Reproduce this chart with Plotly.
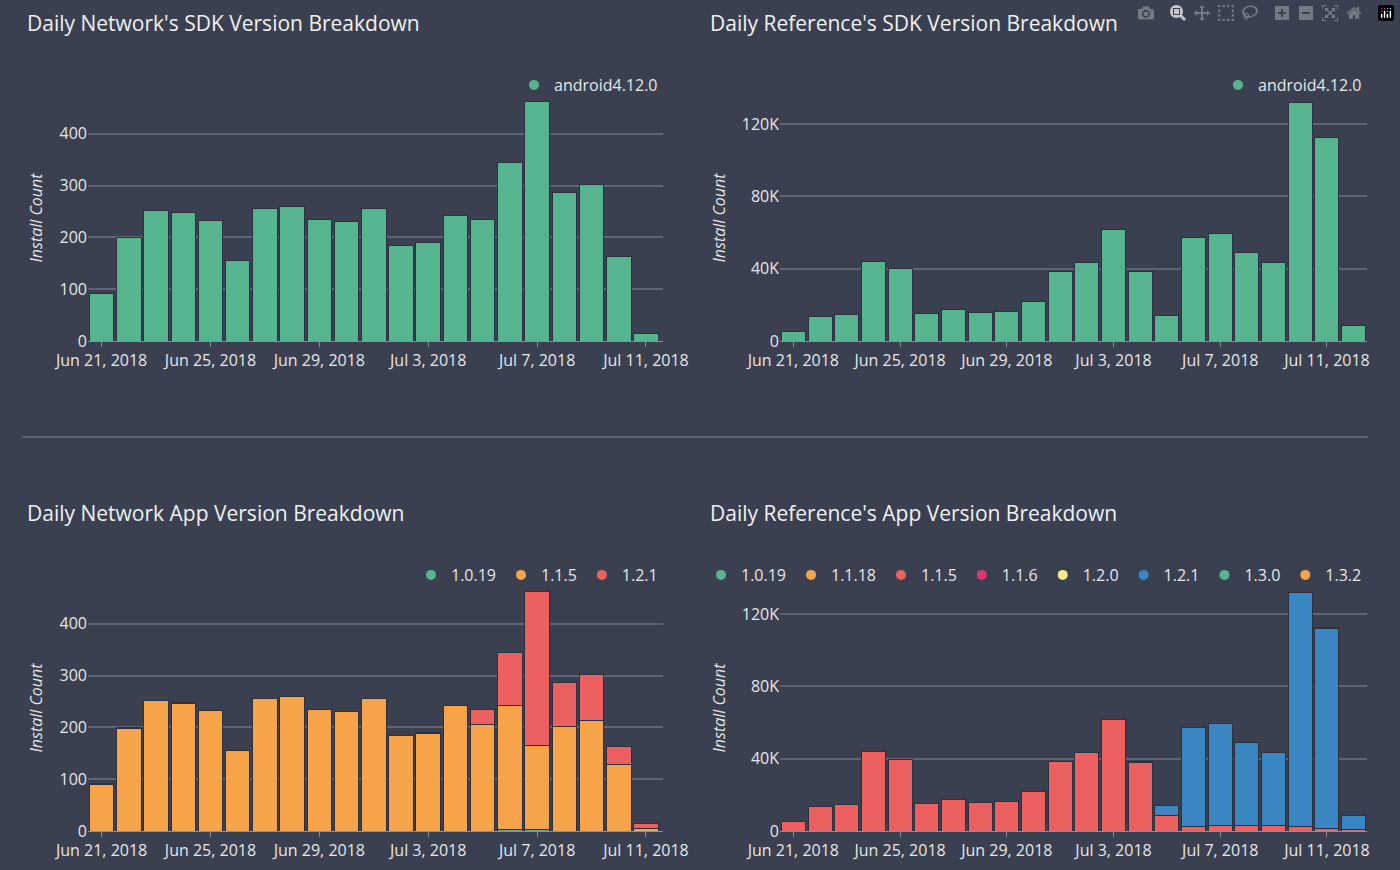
import plotly.graph_objects as go
import pandas as pd

dates_l = pd.date_range("2018-06-21", "2018-07-11").strftime("%Y-%m-%d").tolist()
dates_r = pd.date_range("2018-06-21", "2018-07-12").strftime("%Y-%m-%d").tolist()

net_sdk = [92,200,252,249,233,156,256,259,234,230,256,185,190,242,234,345,462,287,303,164,15]
ref_sdk = [5,13.5,14.5,44,40,15,17.5,15.5,16.5,22,38.5,43.5,61.5,38.5,14,57,59.5,49,43.5,132,112.5,8.5]
ref_sdk = [v*1000 for v in ref_sdk]

net_1019 = [0]*15 + [2,2] + [0]*4
net_115 = [90,197,252,247,233,155,256,259,234,230,255,184,188,242,205,241,164,201,213,128,5]
net_121 = [a-b-c for a,b,c in zip(net_sdk, net_115, net_1019)]

ref_115 = [5,13.5,14.5,44,39.5,15,17.5,15.5,16.5,22,38.5,43.5,61.5,38,8.5,2.5,3,3,3,2.5,1.5,0.8]
ref_121 = [0,0,0,0,0,0,0,0,0,0,0,0,0,0.5,5.5,54.5,56.5,46,40.5,129.5,110.5,7.7]
ref_130 = [0]*20 + [0.5, 0]
ref_115 = [v*1000 for v in ref_115]
ref_121 = [v*1000 for v in ref_121]
ref_130 = [v*1000 for v in ref_130]

k_ticks = [0, 40000, 80000, 120000]
k_labels = ["0", "40K", "80K", "120K"]

GREEN, ORANGE, RED, BLUE = "#56b58f", "#f6a34a", "#ee5f5f", "#3a86c3"
PINK, YELLOW = "#e0356e", "#f6e98b"
BG = "#3a4050"
TXT = "#e6e6e6"
line = dict(color="#2c3140", width=1)

fig = go.Figure()

def add(name, x, y, c, xa, ya, lg):
    fig.add_bar(x=x, y=y, name=name, marker=dict(color=c, line=line), xaxis=xa, yaxis=ya,
                legend=lg, showlegend=False, legendgroup=lg+name)
    fig.add_scatter(x=[None], y=[None], mode="markers", name=name, marker=dict(color=c, size=10, symbol="circle"),
                    xaxis=xa, yaxis=ya, legend=lg, showlegend=True, legendgroup=lg+name)

add("android4.12.0", dates_l, net_sdk, GREEN, "x", "y", "legend")
add("android4.12.0", dates_r, ref_sdk, GREEN, "x2", "y2", "legend2")
for name, vals, c in [("1.0.19", net_1019, GREEN), ("1.1.5", net_115, ORANGE), ("1.2.1", net_121, RED)]:
    add(name, dates_l, vals, c, "x3", "y3", "legend3")
zero = [0]*len(dates_r)
for name, vals, c in [("1.0.19", zero, GREEN), ("1.1.18", zero, ORANGE), ("1.1.5", ref_115, RED),
                      ("1.1.6", zero, PINK), ("1.2.0", zero, YELLOW), ("1.2.1", ref_121, BLUE),
                      ("1.3.0", ref_130, GREEN), ("1.3.2", zero, ORANGE)]:
    add(name, dates_r, vals, c, "x4", "y4", "legend4")

H, W = 870, 1400
def py(p): return 1 - p/H
xl, xr = [88/W, 663/W], [780/W, 1367/W]
yt, yb = [py(341), py(95)], [py(831), py(585)]

xax = dict(type="date", tickformat="%b %-d, %Y", dtick=4*86400000, tick0="2018-06-21", showgrid=False,
           ticks="outside", ticklen=5, tickcolor="#8a909c", tickfont=dict(size=16, color=TXT), linecolor="#8a909c",
           automargin=False)
yax = dict(gridcolor="#5f6574", gridwidth=1.5, zeroline=False, tickfont=dict(size=16, color=TXT), automargin=False,
           title=dict(text="Install Count", font=dict(size=16, color=TXT, style="italic"), standoff=12))

fig.update_layout(
    width=W, height=H, autosize=False, margin=dict(l=0, r=0, t=0, b=0, autoexpand=False),
    paper_bgcolor=BG, plot_bgcolor=BG, barmode="stack", bargap=0.1,
    font=dict(family="Open Sans", color=TXT, size=16),
    xaxis=dict(xax, domain=xl, anchor="y", range=["2018-06-20 12:00", "2018-07-11 15:00"]),
    yaxis=dict(yax, domain=yt, anchor="x", range=[0, 475], dtick=100),
    xaxis2=dict(xax, domain=xr, anchor="y2", range=["2018-06-20 12:00", "2018-07-12 12:00"]),
    yaxis2=dict(yax, domain=yt, anchor="x2", range=[0, 136000], tickvals=k_ticks, ticktext=k_labels),
    xaxis3=dict(xax, domain=xl, anchor="y3", range=["2018-06-20 12:00", "2018-07-11 15:00"]),
    yaxis3=dict(yax, domain=yb, anchor="x3", range=[0, 475], dtick=100),
    xaxis4=dict(xax, domain=xr, anchor="y4", range=["2018-06-20 12:00", "2018-07-12 12:00"]),
    yaxis4=dict(yax, domain=yb, anchor="x4", range=[0, 136000], tickvals=k_ticks, ticktext=k_labels),
)
for i, (x, y) in enumerate([(xl[1], py(68)), (xr[1], py(68)), (xl[1], py(558)), (xr[1], py(558))]):
    key = "legend" if i == 0 else f"legend{i+1}"
    fig.update_layout({key: dict(orientation="h", x=x, y=y, xanchor="right", yanchor="top",
                                 bgcolor="rgba(0,0,0,0)", font=dict(size=16, color=TXT),
                                 itemwidth=30, itemclick=False, traceorder="normal", tracegroupgap=0)})

for txt, x, y in [("Daily Network's SDK Version Breakdown", 25, 23), ("Daily Reference's SDK Version Breakdown", 708, 23),
                  ("Daily Network App Version Breakdown", 25, 513), ("Daily Reference's App Version Breakdown", 708, 513)]:
    fig.add_annotation(text=txt, x=x/W, y=py(y), xref="paper", yref="paper", xanchor="left", yanchor="middle",
                       showarrow=False, font=dict(size=21, color="#f0f0f0"))
fig.add_shape(type="line", xref="paper", yref="paper", x0=22/W, x1=1368/W, y0=py(437), y1=py(437),
              line=dict(color="#6a7080", width=1.5))

fig.write_html("out.html", post_script="document.body.style.margin='0';document.body.style.background='#3a4050';")
